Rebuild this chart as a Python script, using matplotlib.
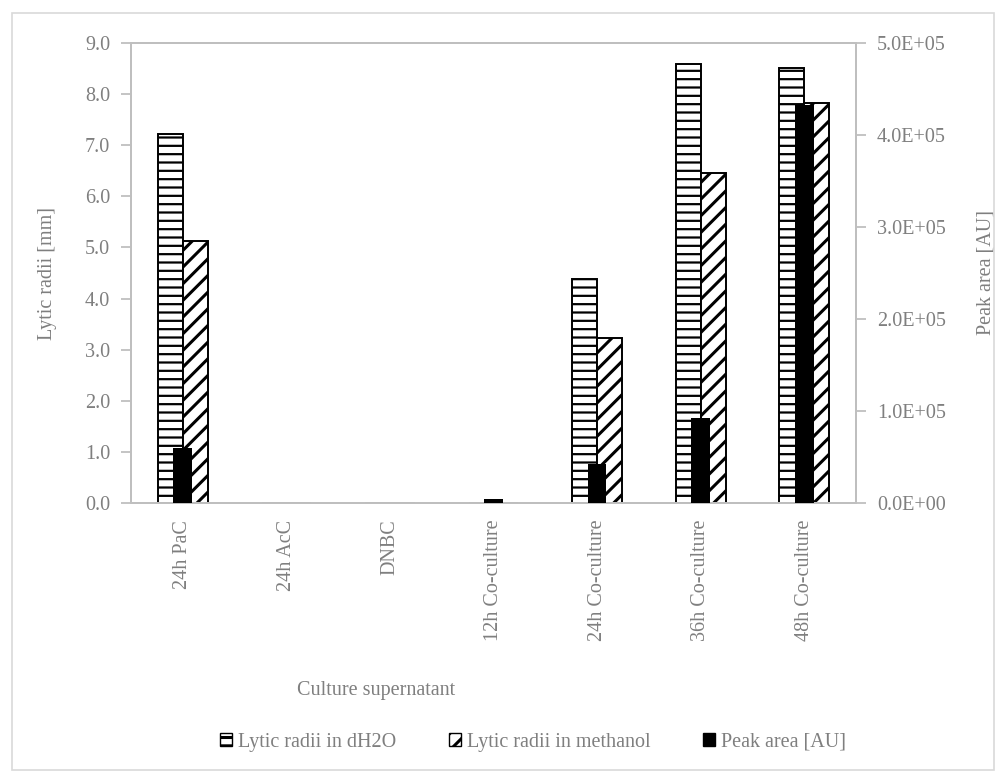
import matplotlib
matplotlib.use("Agg")
import matplotlib.pyplot as plt
import numpy as np
from matplotlib.patches import Rectangle, Patch
from matplotlib.ticker import FuncFormatter, MultipleLocator

categories = ["24h PaC", "24h AcC", "DNBC", "12h Co-culture", "24h Co-culture", "36h Co-culture", "48h Co-culture"]
lytic_dh2o = [7.22, 0, 0, 0, 4.38, 8.59, 8.51]
lytic_methanol = [5.13, 0, 0, 0, 3.23, 6.46, 7.82]
peak_area = [6.0e4, 0, 0, 4.5e3, 4.2e4, 9.2e4, 4.33e5]

TXT = "#7f7f7f"
AX = "#bfbfbf"
FS = 14.5
plt.rcParams["font.family"] = ["Liberation Serif", "DejaVu Serif"]
plt.rcParams["hatch.linewidth"] = 1.6

fig = plt.figure(figsize=(10.06, 7.82), dpi=100)
W, H = 1006, 782
left, right, top, bottom = 131, 856, 43, 503
ax = fig.add_axes([left / W, 1 - bottom / H, (right - left) / W, (bottom - top) / H])
ax2 = ax.twinx()

x = np.arange(len(categories))
bw = 0.24
ax.bar(x - bw / 2, lytic_dh2o, bw, facecolor="white", edgecolor="black", hatch="--", linewidth=1.4, zorder=2)
plt.rcParams["hatch.linewidth"] = 2.2
ax.bar(x + bw / 2, lytic_methanol, bw, facecolor="white", edgecolor="black", hatch="//", linewidth=1.4, zorder=2)
ax2.bar(x, peak_area, 0.18, color="black", zorder=3)

ax.set_xlim(-0.5, len(categories) - 0.5)
ax.set_ylim(0, 9)
ax2.set_ylim(0, 5e5)
ax.yaxis.set_major_locator(MultipleLocator(1))
ax2.yaxis.set_major_locator(MultipleLocator(1e5))
ax.yaxis.set_major_formatter(FuncFormatter(lambda v, p: f"{v:.1f}"))
ax2.yaxis.set_major_formatter(FuncFormatter(lambda v, p: f"{v:.1E}"))

ax.set_xticks(x)
ax.set_xticklabels(categories, rotation=90, fontsize=FS, color=TXT)
ax.tick_params(axis="x", length=0, pad=12)
ax.tick_params(axis="y", length=7, width=1.3, color=AX, labelsize=FS, labelcolor=TXT, pad=8)
ax2.tick_params(axis="y", length=7, width=1.3, color=AX, labelsize=FS, labelcolor=TXT, pad=8)

for a in (ax, ax2):
    for s in a.spines.values():
        s.set_color(AX)
        s.set_linewidth(1.3)

ax.set_ylabel("Lytic radii [mm]", fontsize=FS, color=TXT, labelpad=20)
ax2.set_ylabel("Peak area [AU]", fontsize=FS, color=TXT, rotation=90, labelpad=22)

fig.text(376 / W, 1 - 690 / H, "Culture supernatant", fontsize=FS, color=TXT, ha="center", va="center")

handles = [
    Patch(facecolor="white", edgecolor="black", hatch="--", label="Lytic radii in dH2O"),
    Patch(facecolor="white", edgecolor="black", hatch="//", label="Lytic radii in methanol"),
    Patch(facecolor="black", edgecolor="black", label="Peak area [AU]"),
]
leg = fig.legend(handles=handles, loc="center", bbox_to_anchor=(533 / W, 1 - 742 / H), ncol=3,
                 frameon=False, fontsize=FS, handlelength=0.6, handleheight=0.6, handletextpad=0.3,
                 columnspacing=2.6)
for t in leg.get_texts():
    t.set_color(TXT)

fig.patches.append(Rectangle((12 / W, 1 - 770 / H), (994 - 12) / W, (770 - 13) / H, transform=fig.transFigure,
                             fill=False, edgecolor="#d9d9d9", linewidth=1.2))

fig.savefig("out.png", dpi=100)
